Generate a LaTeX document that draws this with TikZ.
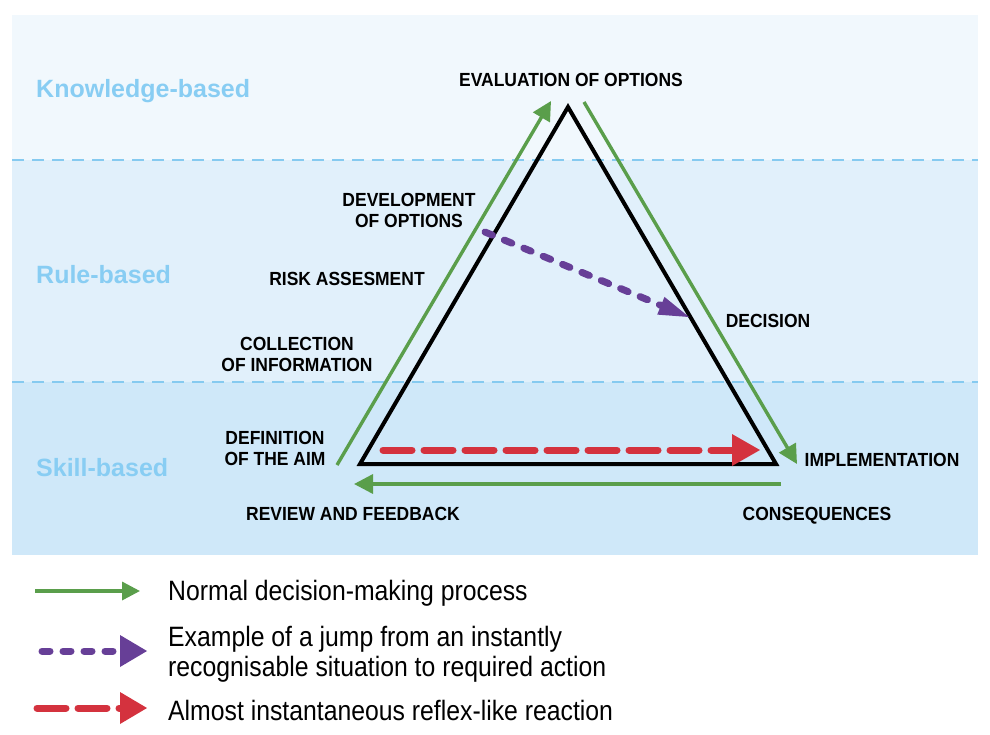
\documentclass[tikz,border=0pt]{standalone}
\usepackage{fontspec}
\setmainfont{Liberation Sans}
\newfontfamily\labfont{Liberation Sans}[FakeStretch=0.92]
\newfontfamily\legfont{Liberation Sans}[FakeStretch=0.885]
\usetikzlibrary{arrows.meta}
\definecolor{bandK}{HTML}{F1F8FD}
\definecolor{bandR}{HTML}{E1F0FB}
\definecolor{bandS}{HTML}{CFE8F9}
\definecolor{bandline}{HTML}{86CAF0}
\definecolor{bandtext}{HTML}{88CDF3}
\definecolor{okgreen}{HTML}{5A9E4B}
\definecolor{jumppurple}{HTML}{673F97}
\definecolor{reflexred}{HTML}{D4323E}
\tikzset{
  bandlabel/.style={anchor=base west, inner sep=0pt, text=bandtext, font=\bfseries\fontsize{25}{27}\selectfont},
  steplabel/.style={inner sep=0pt, align=center, font=\labfont\bfseries\fontsize{19}{21}\selectfont},
  legtext/.style={anchor=base west, inner sep=0pt, font=\legfont\fontsize{28}{30}\selectfont},
  sepline/.style={draw=bandline, line width=2pt, dash pattern=on 12pt off 8pt},
  tri/.style={draw=black, line width=4pt, line join=miter},
  normalarrow/.style={draw=okgreen, line width=3.4pt, -{Triangle[length=19pt,width=19pt]}},
  jumparrow/.style={draw=jumppurple, line width=7pt, line cap=round, dash pattern=on 8pt off 13pt},
  reflexarrow/.style={draw=reflexred, line width=7pt, line cap=round, dash pattern=on 29pt off 12pt},
}
\begin{document}
\begin{tikzpicture}[x=1pt,y=-1pt]
\useasboundingbox (0,0) rectangle (990,734);
\fill[white] (0,0) rectangle (990,734);
% bands
\fill[bandK] (12,15) rectangle (978,160);
\fill[bandR] (12,160) rectangle (978,382);
\fill[bandS] (12,382) rectangle (978,555);
\draw[sepline] (12,160) -- (978,160);
\draw[sepline] (12,382) -- (978,382);
% band labels
\node[bandlabel] (kb) at (36,97) {Knowledge-based};
\node[bandlabel] (rb) at (36,283) {Rule-based};
\node[bandlabel] (sb) at (36,476) {Skill-based};
% triangle
\coordinate (tA) at (568,107);
\coordinate (tL) at (360,464);
\coordinate (tR) at (776,464);
\draw[tri] (tL) -- (tA) -- (tR) -- cycle;
% step labels
\node[steplabel] (eval) at (571,80) {EVALUATION OF OPTIONS};
\node[steplabel] (devo) at (409,210.5) {DEVELOPMENT\\OF OPTIONS};
\node[steplabel] (risk) at (347,279) {RISK ASSESMENT};
\node[steplabel] (coll) at (297,354) {COLLECTION\\OF INFORMATION};
\node[steplabel] (defi) at (275,448.5) {DEFINITION\\OF THE AIM};
\node[steplabel] (revi) at (353,514) {REVIEW AND FEEDBACK};
\node[steplabel, text depth=0pt] (cons) at (817,514) {CONSEQUENCES};
\node[steplabel] (impl) at (882,460) {IMPLEMENTATION};
\node[steplabel] (deci) at (768,321) {DECISION};
% green process arrows
\coordinate (g1s) at (337,465);
\coordinate (g1e) at (551,101);
\coordinate (g2s) at (584,102);
\coordinate (g2e) at (797,464);
\coordinate (g3s) at (781,484);
\coordinate (g3e) at (354,484);
\draw[normalarrow] (g1s) -- (g1e);
\draw[normalarrow] (g2s) -- (g2e);
\draw[normalarrow] (g3s) -- (g3e);
% purple jump
\coordinate (ps) at (485,232);
\coordinate (pe) at (689,317);
\coordinate (pb) at (668,308.3);
\draw[jumparrow] (ps) -- (pb);
\fill[jumppurple] (pe) -- ++(-24.5,-20.1) -- ++(-7.3,17.7) -- cycle;
% red reflex
\coordinate (rs) at (383,450);
\coordinate (re) at (732,450);
\coordinate (rt) at (760,450);
\draw[reflexarrow] (rs) -- (re);
\fill[reflexred] (rt) -- ++(-28,-16) -- ++(0,32) -- cycle;
% legend
\coordinate (l1s) at (35,591);
\coordinate (l1e) at (140,591);
\draw[normalarrow, -{Triangle[length=18pt,width=18pt]}] (l1s) -- (l1e);
\node[legtext] (leg1) at (168,600) {Normal decision-making process};
\coordinate (l2s) at (42,651);
\coordinate (l2e) at (120,651);
\coordinate (l2t) at (147,651);
\draw[jumparrow] (l2s) -- (l2e);
\fill[jumppurple] (l2t) -- ++(-27,-16) -- ++(0,32) -- cycle;
\node[legtext] (leg2a) at (168,646) {Example of a jump from an instantly};
\node[legtext] (leg2b) at (168,676) {recognisable situation to required action};
\coordinate (l3s) at (37,708);
\coordinate (l3e) at (120,708);
\coordinate (l3t) at (147,708);
\draw[reflexarrow] (l3s) -- (l3e);
\fill[reflexred] (l3t) -- ++(-27,-16) -- ++(0,32) -- cycle;
\node[legtext] (leg3) at (168,720) {Almost instantaneous reflex-like reaction};
\end{tikzpicture}
\end{document}
